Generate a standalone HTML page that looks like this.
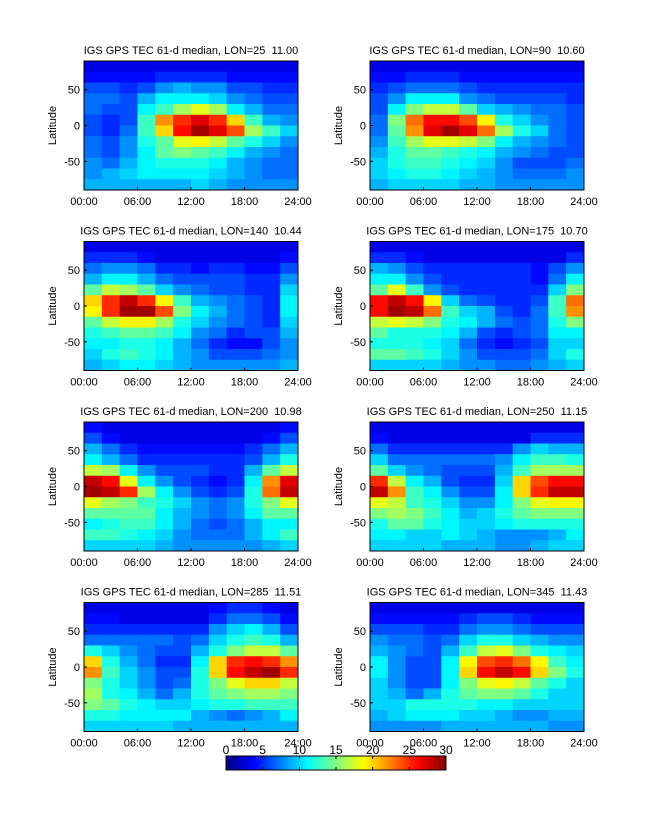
<!DOCTYPE html>
<html><head><meta charset="utf-8"><style>
body{margin:0;background:#fff;}
svg text{font-family:"Liberation Sans",sans-serif;fill:#000;white-space:pre;}
</style></head><body>
<svg id="fig" width="647" height="822" xmlns="http://www.w3.org/2000/svg" xml:space="preserve"></svg>
<script>
const titles=["IGS GPS TEC 61-d median, LON=25  11.00","IGS GPS TEC 61-d median, LON=90  10.60","IGS GPS TEC 61-d median, LON=140  10.44","IGS GPS TEC 61-d median, LON=175  10.70","IGS GPS TEC 61-d median, LON=200  10.98","IGS GPS TEC 61-d median, LON=250  11.15","IGS GPS TEC 61-d median, LON=285  11.51","IGS GPS TEC 61-d median, LON=345  11.43"];
const xTickLabels=["00:00","06:00","12:00","18:00","24:00"];
const xTickHours=[0,6,12,18,24];
const yTickLats=[50,0,-50];
const cbarTicks=[0,5,10,15,20,25,30];
const latEdges=[90,75,60,45,30,15,0,-15,-30,-45,-60,-75,-90];
const p1=[[3,3,3,3,3,3,3,3,3,3,3,3],[4,4,4,4,5,5,5,5,4,4,4,4],[6,6,5,6,8,9,8,8,6,6,5,5],[7,7,6,9,11,11,11,10,8,7,6,6],[7,6,6,11,13,16,18,16,11,9,7,7],[6,5,6,13,22,25,27,25,20,13,9,8],[6,5,7,13,20,26,29,27,24,16,13,10],[7,6,8,12,14,18,19,17,14,12,10,8],[7,6,8,11,14,15,14,13,11,9,8,7],[8,7,9,11,12,12,12,11,9,8,7,7],[8,9,10,11,11,11,11,10,9,8,7,7],[9,9,9,9,9,9,10,9,8,8,8,8]];
const p2=[[3,3,3,3,3,3,3,3,3,3,3,3],[4,4,5,5,5,4,4,4,4,4,4,4],[5,6,7,7,7,6,5,5,5,5,5,5],[6,8,11,11,11,8,7,6,6,6,6,5],[6,11,15,17,17,14,10,9,8,7,7,6],[7,15,23,26,26,24,19,12,10,8,7,6],[7,14,22,27,29,27,23,16,12,10,7,6],[8,13,16,18,18,17,15,11,9,8,7,6],[9,12,14,14,13,12,11,9,8,7,6,6],[10,12,13,13,12,11,10,8,6,6,6,7],[10,11,12,12,11,10,9,8,7,7,7,8],[9,10,10,10,10,9,9,8,8,8,8,8]];
const p3=[[3,3,3,3,3,3,3,3,3,3,3,3],[5,5,5,4,3,3,3,3,3,3,3,4],[7,8,8,7,5,5,4,5,5,4,4,6],[9,11,11,9,7,6,6,6,6,5,5,8],[14,17,16,14,10,8,7,6,6,5,5,10],[20,25,28,25,19,13,9,8,7,6,5,11],[19,25,29,29,24,15,11,9,7,6,5,11],[14,17,19,19,16,12,10,8,7,6,5,10],[12,13,14,14,13,11,8,7,5,6,6,9],[11,11,12,12,11,9,7,5,4,4,6,8],[10,12,13,12,11,9,8,6,6,6,7,8],[9,10,11,11,10,9,8,8,8,8,8,9]];
const p4=[[3,3,3,3,3,3,3,3,3,3,3,3],[5,5,4,3,3,3,3,3,3,3,3,5],[9,8,6,5,5,5,5,5,5,4,6,8],[11,11,8,6,5,5,5,5,5,4,7,11],[14,18,13,8,6,5,5,5,5,5,10,15],[26,28,26,19,10,7,6,5,5,6,13,23],[26,29,28,23,13,10,9,6,5,7,13,22],[17,18,17,15,12,11,9,7,6,7,12,15],[14,12,12,12,11,9,6,5,6,7,11,11],[12,12,12,11,10,7,5,4,5,6,10,10],[14,14,13,12,10,8,6,6,6,7,10,12],[10,10,10,10,9,8,8,7,7,8,9,10]];
const p5=[[4,3,3,3,3,3,3,3,3,3,3,4],[6,4,3,3,3,3,3,3,3,3,4,6],[9,7,5,4,4,4,4,4,4,5,7,9],[11,9,7,5,5,5,5,5,5,6,9,12],[17,16,11,8,6,6,6,5,5,9,14,17],[28,26,18,11,8,6,5,4,5,11,22,27],[29,28,25,16,11,8,6,5,6,12,23,28],[18,16,15,13,12,10,8,7,8,12,15,18],[14,14,14,14,11,9,8,7,8,11,14,14],[11,12,13,13,11,9,7,6,7,9,11,11],[13,13,12,11,10,8,7,7,7,9,11,13],[10,10,10,10,9,8,8,8,8,8,9,10]];
const p6=[[3,3,3,3,3,3,3,3,3,3,3,3],[4,3,3,3,3,3,3,3,3,5,5,5],[7,5,5,5,5,5,5,5,8,10,9,9],[10,7,7,7,7,7,7,8,11,13,13,12],[14,10,8,7,6,6,6,9,13,16,16,16],[25,17,11,9,6,5,5,10,20,24,26,26],[28,22,13,11,8,6,6,11,20,25,28,28],[18,17,13,12,10,8,8,11,15,18,19,19],[15,16,15,13,11,9,10,12,14,15,15,15],[12,14,14,12,11,10,10,11,12,12,12,12],[11,11,10,10,11,10,9,8,8,8,9,11],[10,10,10,10,9,9,9,8,8,9,10,10]];
const p7=[[3,3,3,3,3,3,3,4,5,5,4,3],[4,4,3,3,3,3,3,5,7,7,6,4],[5,5,5,5,5,5,5,8,10,11,9,6],[7,7,7,7,7,6,7,10,12,13,12,9],[12,10,8,7,6,6,9,12,15,17,17,14],[20,12,9,7,5,5,11,20,25,26,25,22],[22,13,10,8,6,6,12,20,26,28,29,25],[15,12,10,8,6,7,12,15,18,20,20,17],[16,12,11,9,7,9,12,14,15,16,16,15],[15,14,12,11,10,10,11,12,12,13,13,13],[12,12,11,11,11,11,9,8,7,8,9,11],[10,10,10,10,10,9,9,9,9,9,9,9]];
const p8=[[3,3,3,3,3,3,3,3,3,3,3,3],[4,4,4,4,4,5,6,6,5,4,4,4],[6,6,6,5,5,7,8,8,7,6,6,6],[8,7,7,6,7,10,12,12,10,9,8,8],[9,8,7,6,9,13,17,18,15,12,11,10],[11,8,6,6,11,19,24,25,23,19,13,11],[11,8,6,6,11,20,26,28,26,20,15,12],[10,8,6,6,11,15,18,19,17,14,12,10],[10,9,7,9,12,14,15,15,14,12,10,10],[10,10,12,12,12,12,11,11,10,10,10,10],[9,10,11,11,11,10,10,9,8,8,9,9],[8,8,8,8,9,9,9,9,9,9,8,8]];
const panels=[p1,p2,p3,p4,p5,p6,p7,p8];

const NS="http://www.w3.org/2000/svg";
const svg=document.getElementById('fig');
function mk(tag,attrs,parent){const e=document.createElementNS(NS,tag);for(const k in attrs)e.setAttribute(k,attrs[k]);(parent||svg).appendChild(e);return e;}
function jet(v){let t=Math.max(0,Math.min(1,v/30));
 const f=(x)=>Math.max(0,Math.min(1,x));
 const r=f(Math.min(4*t-1.5,-4*t+4.5)),g=f(Math.min(4*t-0.5,-4*t+3.5)),b=f(Math.min(4*t+0.5,-4*t+2.5));
 return `rgb(${Math.round(r*255)},${Math.round(g*255)},${Math.round(b*255)})`;}
const PW=214,PH=129,LX=[84,370],TY=61,DY=180.5;
panels.forEach((data,i)=>{
 const x0=LX[i%2],y0=TY+Math.floor(i/2)*DY;
 const xs=h=>x0+h/24*PW, ys=lat=>y0+(90-lat)/180*PH;
 const g=mk('g',{});
 
 
 const nc=data[0].length;
 data.forEach((row,r)=>row.forEach((v,c)=>{
  const xa=xs(c*24/nc),xb=xs((c+1)*24/nc),ya=ys(latEdges[r]),yb=ys(latEdges[r+1]);
  const rc=mk('rect',{x:xa,y:ya,width:xb-xa+0.4,height:yb-ya+0.4,fill:jet(v)},g);
  
  
 }));
 const fr=mk('rect',{x:x0,y:y0,width:PW,height:PH,fill:'none',stroke:'#000','stroke-width':1},g);
 
 
 const t=mk('text',{x:x0+PW/2,y:y0-7,'font-size':11,'text-anchor':'middle'},g);t.textContent=titles[i];
 
 
 xTickHours.forEach((h,k)=>{
  mk('line',{x1:xs(h),x2:xs(h),y1:y0+PH,y2:y0+PH-3,stroke:'#000'},g);
  const tl=mk('text',{x:xs(h),y:y0+PH+15,'font-size':11,'text-anchor':'middle'},g);tl.textContent=xTickLabels[k];
  
  
 });
 yTickLats.forEach(l=>{
  mk('line',{x1:x0,x2:x0+3,y1:ys(l),y2:ys(l),stroke:'#000'},g);
  const tl=mk('text',{x:x0-4,y:ys(l)+4,'font-size':11,'text-anchor':'end'},g);tl.textContent=String(l);
  
  
 });
 const yl=mk('text',{x:0,y:0,'font-size':11,'text-anchor':'middle',transform:`translate(${x0-28},${y0+PH/2}) rotate(-90)`},g);yl.textContent='Latitude';
 
 
});
const CX=226,CW=220,CY=756,CH=14;
const defs=mk('defs',{});const lg=mk('linearGradient',{id:'jetg',x1:0,x2:1,y1:0,y2:0},defs);
for(let s=0;s<=30;s++){mk('stop',{offset:s/30,'stop-color':jet(s)},lg);}
const cb=mk('g',{});


mk('rect',{x:CX,y:CY,width:CW,height:CH,fill:'url(#jetg)',stroke:'#000'},cb);
cbarTicks.forEach(v=>{const x=CX+v/30*CW;
 mk('line',{x1:x,x2:x,y1:CY+CH,y2:CY+CH-3,stroke:'#000'},cb);
 mk('line',{x1:x,x2:x,y1:CY,y2:CY+3,stroke:'#000'},cb);
 const tl=mk('text',{x:x,y:CY-2,'font-size':12,'text-anchor':'middle'},cb);tl.textContent=String(v);
 
 
});
</script>
</body></html>
